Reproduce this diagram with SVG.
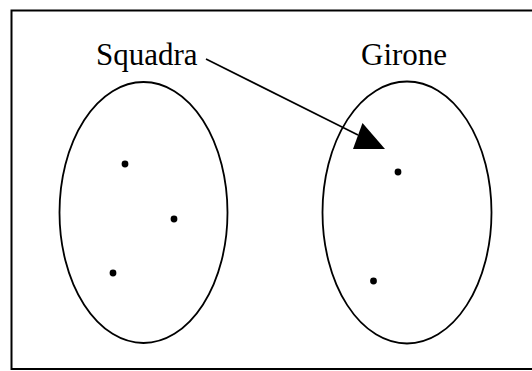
<svg xmlns="http://www.w3.org/2000/svg" width="532" height="371" viewBox="0 0 532 371">
<style>
.frame{fill:none;stroke:#000;stroke-width:2}
.set{fill:none;stroke:#000;stroke-width:1.8}
.dot{fill:#000}
.lbl{font-family:"Liberation Serif","Times New Roman",serif;font-size:31px;fill:#000}
.conn{fill:none;stroke:#000;stroke-width:1.6}
</style>
<rect x="0" y="0" width="532" height="371" fill="#fff"/>
<rect class="frame" x="11.5" y="10.5" width="522" height="358.5"/>
<g id="squadra">
<ellipse class="set" cx="143.5" cy="212.5" rx="84" ry="130.5"/>
<circle class="dot" cx="125" cy="164" r="3.4"/>
<circle class="dot" cx="174" cy="219" r="3.4"/>
<circle class="dot" cx="113" cy="273" r="3.4"/>
<text class="lbl" x="96" y="65">Squadra</text>
</g>
<g id="girone">
<ellipse class="set" cx="407" cy="212.5" rx="84.5" ry="131"/>
<circle class="dot" cx="398" cy="172" r="3.4"/>
<circle class="dot" cx="373.5" cy="281" r="3.4"/>
<text class="lbl" x="361" y="65">Girone</text>
</g>
<g id="connectors">
<line class="conn" x1="206" y1="59" x2="358" y2="135"/>
<polygon points="362.5,123 353,149 385,149" fill="#000"/>
</g>
</svg>
